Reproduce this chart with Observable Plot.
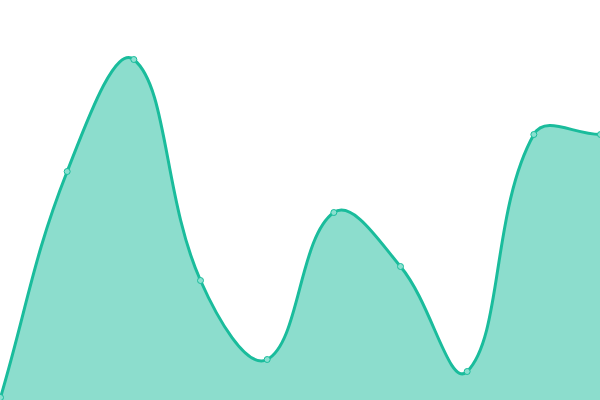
<!DOCTYPE html>
<html>
<head>
<meta charset="utf-8">
<script src="https://cdn.jsdelivr.net/npm/d3@7"></script>
<script src="https://cdn.jsdelivr.net/npm/@observablehq/plot@0.6"></script>
<style>
  html, body { margin: 0; padding: 0; background: #fff; }
</style>
</head>
<body>
<div id="chart"></div>
<script>
const xs = [0, 1, 2, 3, 4, 5, 6, 7, 8, 9];
const values = [3, 229, 341, 120, 41, 188, 134, 29, 266, 266];

const data = xs.map((x, i) => ({x, v: values[i]}));

const W = 600, H = 400;

// Tension-based spline curve (control points weighted by neighbour distances)
function tensionCurve(t) {
  return function(context) {
    let pts = [], line;
    const clamp = (v, lo, hi) => Math.max(lo, Math.min(hi, v));
    return {
      areaStart() { line = 0; },
      areaEnd() { line = NaN; },
      lineStart() { pts = []; },
      point(x, y) { pts.push([+x, +y]); },
      lineEnd() {
        const n = pts.length;
        if (n) {
          if (line) context.lineTo(pts[0][0], pts[0][1]);
          else context.moveTo(pts[0][0], pts[0][1]);
          const cps = pts.map((p, i) => {
            const prev = pts[i - 1] || p, next = pts[i + 1] || p;
            const d01 = Math.hypot(p[0] - prev[0], p[1] - prev[1]);
            const d12 = Math.hypot(next[0] - p[0], next[1] - p[1]);
            let s01 = d01 / (d01 + d12), s12 = d12 / (d01 + d12);
            if (isNaN(s01)) s01 = 0;
            if (isNaN(s12)) s12 = 0;
            const fa = t * s01, fb = t * s12;
            const dx = next[0] - prev[0], dy = next[1] - prev[1];
            return {
              px: clamp(p[0] - fa * dx, 0, W), py: clamp(p[1] - fa * dy, 0, H),
              nx: clamp(p[0] + fb * dx, 0, W), ny: clamp(p[1] + fb * dy, 0, H)
            };
          });
          for (let i = 1; i < n; i++) {
            context.bezierCurveTo(cps[i - 1].nx, cps[i - 1].ny, cps[i].px, cps[i].py, pts[i][0], pts[i][1]);
          }
        }
        if (line || (line !== 0 && n === 1)) context.closePath();
        line = 1 - line;
      }
    };
  };
}

const curve = tensionCurve(0.4);

const chart = Plot.plot({
  width: W,
  height: H,
  margin: 0,
  x: {domain: [0, 9], axis: null},
  y: {domain: [0, 400], axis: null},
  marks: [
    Plot.areaY(data, {x: "x", y: "v", curve, fill: "#1abc9c", fillOpacity: 0.5}),
    Plot.lineY(data, {x: "x", y: "v", curve, stroke: "#1abc9c", strokeWidth: 3}),
    Plot.dot(data, {x: "x", y: "v", r: 3, fill: "#8ae0d0", stroke: "#1abc9c", strokeWidth: 1})
  ]
});
document.getElementById("chart").appendChild(chart);
</script>
</body>
</html>
